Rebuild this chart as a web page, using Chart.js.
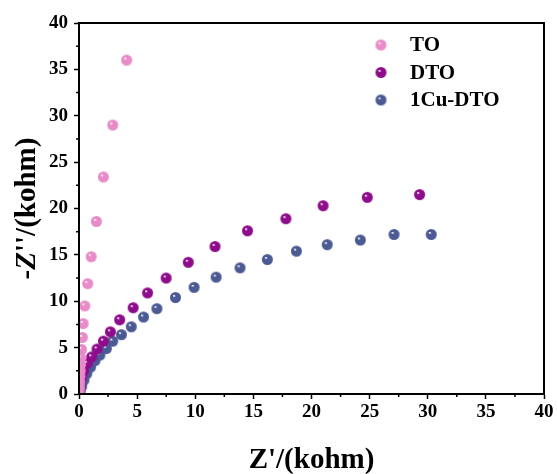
<!DOCTYPE html>
<html>
<head>
<meta charset="utf-8">
<script src="https://cdn.jsdelivr.net/npm/chart.js@4.4.1/dist/chart.umd.min.js"></script>
<style>
  html, body { margin: 0; padding: 0; background: #fff; }
  #wrap { width: 558px; height: 474px; }
</style>
</head>
<body>
<div id="wrap"><canvas id="eis"></canvas></div>
<script>
// 数据
const seriesNames = ['TO', 'DTO', '1Cu-DTO'];
const toX = [0.02, 0.03, 0.05, 0.07, 0.1, 0.13, 0.17, 0.22, 0.29, 0.36, 0.5, 0.75, 1.05, 1.5, 2.1, 2.9, 4.1];
const toY = [0.4, 0.8, 1.3, 1.9, 2.5, 3.2, 3.9, 4.8, 6.1, 7.6, 9.5, 11.9, 14.8, 18.6, 23.4, 29.0, 36.0];
const dtoX = [0.05, 0.1, 0.2, 0.4, 0.7, 1.09, 1.55, 2.1, 2.7, 3.5, 4.66, 5.9, 7.5, 9.4, 11.7, 14.5, 17.8, 21.0, 24.8, 29.3];
const dtoY = [0.5, 1.1, 1.8, 2.5, 3.3, 4.0, 4.85, 5.7, 6.7, 8.0, 9.3, 10.9, 12.5, 14.2, 15.9, 17.6, 18.9, 20.3, 21.2, 21.5];
const cuX = [0.03, 0.1, 0.23, 0.43, 0.67, 1.0, 1.38, 1.8, 2.35, 2.9, 3.65, 4.5, 5.55, 6.7, 8.3, 9.9, 11.8, 13.85, 16.2, 18.7, 21.35, 24.2, 27.1, 30.3];
const cuY = [0.05, 0.3, 0.8, 1.5, 2.2, 2.9, 3.6, 4.2, 4.9, 5.7, 6.4, 7.25, 8.3, 9.2, 10.4, 11.5, 12.6, 13.6, 14.5, 15.4, 16.1, 16.6, 17.2, 17.2];
const axisTicks = [0, 5, 10, 15, 20, 25, 30, 35, 40];

const colors = ['#e88bc8', '#8e0c8c', '#4b5a93'];
const serif = '"Liberation Serif", "Times New Roman", serif';

// 带高光的小球
function makeBall(color, r) {
    const c = document.createElement('canvas');
    const s = r * 2 + 2;
    c.width = s; c.height = s;
    const g = c.getContext('2d');
    const grad = g.createRadialGradient(s * 0.38, s * 0.36, 0.4, s / 2, s / 2, r);
    grad.addColorStop(0, '#ffffff');
    grad.addColorStop(0.22, color);
    grad.addColorStop(1, color);
    g.fillStyle = grad;
    g.beginPath();
    g.arc(s / 2, s / 2, r, 0, Math.PI * 2);
    g.fill();
    return c;
}

function pairs(xs, ys) {
    return xs.map((x, i) => ({ x: x, y: ys[i] }));
}

const balls = colors.map(c => makeBall(c, 5.5));

// 边框 + 次刻度 + 坐标轴标题
const framePlugin = {
    id: 'frame',
    afterDraw(chart) {
        const ctx = chart.ctx;
        const a = chart.chartArea;
        const xs = chart.scales.x, ys = chart.scales.y;
        ctx.save();
        ctx.strokeStyle = '#000';
        ctx.lineWidth = 2;
        ctx.strokeRect(a.left, a.top, a.right - a.left, a.bottom - a.top);
        ctx.lineWidth = 1.5;
        ctx.beginPath();
        for (let v = 2.5; v < 40; v += 5) {
            const px = xs.getPixelForValue(v);
            ctx.moveTo(px, a.bottom);
            ctx.lineTo(px, a.bottom + 3);
            const py = ys.getPixelForValue(v);
            ctx.moveTo(a.left, py);
            ctx.lineTo(a.left - 3, py);
        }
        ctx.stroke();

        // x 轴标题
        ctx.fillStyle = '#000';
        ctx.textAlign = 'center';
        ctx.textBaseline = 'middle';
        ctx.font = 'bold 29px ' + serif;
        ctx.fillText("Z'/(kohm)", (a.left + a.right) / 2, 461);

        // y 轴标题（Z 为斜体）
        const parts = [['-', 'bold 29px '], ['Z', 'italic bold 29px '], ["''/(kohm)", 'bold 29px ']];
        let total = 0;
        parts.forEach(p => { ctx.font = p[1] + serif; total += ctx.measureText(p[0]).width; });
        ctx.translate(28, (a.top + a.bottom) / 2);
        ctx.rotate(-Math.PI / 2);
        ctx.textAlign = 'left';
        let x = -total / 2;
        parts.forEach(p => {
            ctx.font = p[1] + serif;
            ctx.fillText(p[0], x, 0);
            x += ctx.measureText(p[0]).width;
        });
        ctx.restore();
    }
};

// 图例
const legendPlugin = {
    id: 'ballLegend',
    afterDraw(chart) {
        const ctx = chart.ctx;
        ctx.save();
        ctx.font = 'bold 21px ' + serif;
        ctx.fillStyle = '#000';
        ctx.textBaseline = 'middle';
        seriesNames.forEach((name, i) => {
            const y = 45 + i * 27.5;
            const b = balls[i];
            ctx.drawImage(b, 381 - b.width / 2, y - b.height / 2);
            ctx.fillText(name, 410, y + 1);
        });
        ctx.restore();
    }
};

const tickFont = { family: serif, size: 19, weight: 'bold' };

new Chart(document.getElementById('eis'), {
    type: 'scatter',
    data: {
        datasets: [
            { label: seriesNames[0], data: pairs(toX, toY), pointStyle: balls[0], backgroundColor: colors[0] },
            { label: seriesNames[1], data: pairs(dtoX, dtoY), pointStyle: balls[1], backgroundColor: colors[1] },
            { label: seriesNames[2], data: pairs(cuX, cuY), pointStyle: balls[2], backgroundColor: colors[2] }
        ]
    },
    options: {
        responsive: true,
        maintainAspectRatio: false,
        animation: false,
        layout: { padding: { left: 0, top: 23, right: 14, bottom: 0 } },
        plugins: {
            legend: { display: false },
            tooltip: { enabled: false }
        },
        scales: {
            x: {
                type: 'linear',
                min: 0, max: 40,
                afterBuildTicks: s => { s.ticks = axisTicks.map(v => ({ value: v })); },
                afterFit: s => { s.height = 80; },
                border: { display: true, color: '#000', width: 2 },
                grid: { drawOnChartArea: false, tickLength: 5, tickColor: '#000', tickWidth: 1.5 },
                ticks: { color: '#000', font: tickFont, padding: 2, maxRotation: 0 }
            },
            y: {
                type: 'linear',
                min: 0, max: 40,
                afterBuildTicks: s => { s.ticks = axisTicks.map(v => ({ value: v })); },
                afterFit: s => { s.width = 79; },
                border: { display: true, color: '#000', width: 2 },
                grid: { drawOnChartArea: false, tickLength: 5, tickColor: '#000', tickWidth: 1.5 },
                ticks: { color: '#000', font: tickFont, padding: 6 }
            }
        }
    },
    plugins: [framePlugin, legendPlugin]
});
</script>
</body>
</html>
